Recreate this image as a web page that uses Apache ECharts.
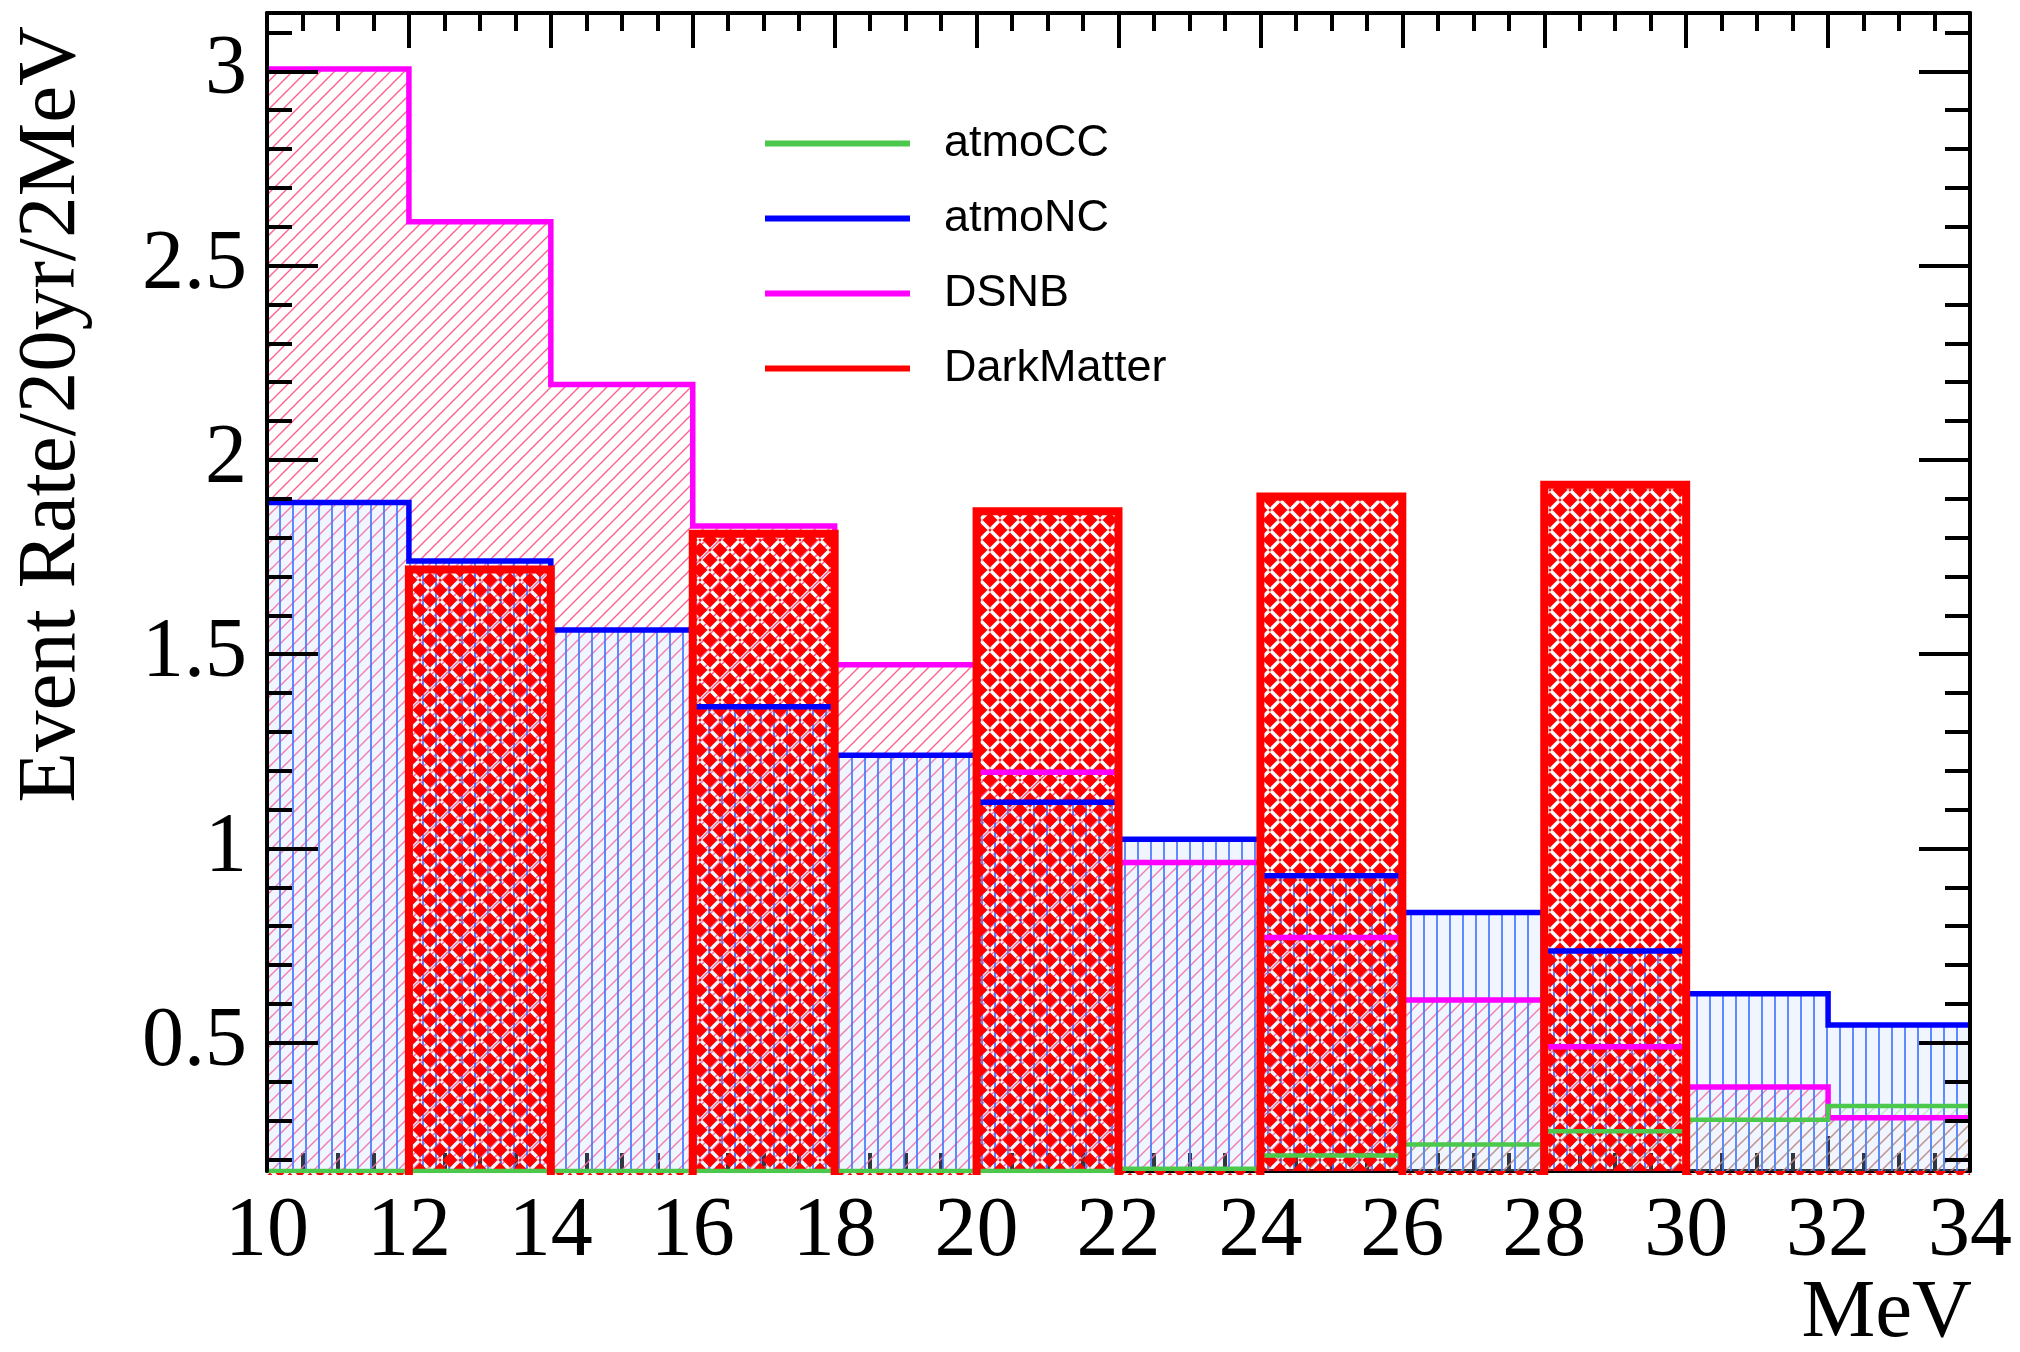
<!DOCTYPE html>
<html>
<head>
<meta charset="utf-8">
<script src="https://cdn.jsdelivr.net/npm/echarts@6/dist/echarts.min.js"></script>
<style>
  html, body { margin: 0; padding: 0; background: #fff; }
  #chart { width: 2020px; height: 1352px; }
</style>
</head>
<body>
<div id="chart"></div>
<script>
// bin edges in MeV (2 MeV bins)
var binEdges = [10, 12, 14, 16, 18, 20, 22, 24, 26, 28, 30, 32, 34];
// event rate / 20yr / 2MeV, one value per bin
var atmoCC = [0.17, 0.17, 0.17, 0.17, 0.17, 0.17, 0.176, 0.21, 0.238, 0.272, 0.302, 0.337];
var atmoNC = [1.89, 1.74, 1.562, 1.365, 1.24, 1.119, 1.024, 0.93, 0.835, 0.736, 0.626, 0.546];
var dsnb = [3.006, 2.613, 2.194, 1.83, 1.473, 1.196, 0.964, 0.771, 0.61, 0.49, 0.386, 0.307];
var darkMatter = [0, 1.718, 0, 1.81, 0, 1.868, 0, 1.906, 0, 1.936, 0, 0];
// y axis ticks
var yMajorTicks = [0.5, 1, 1.5, 2, 2.5, 3];
var yMinorTicks = [0.2, 0.3, 0.4, 0.6, 0.7, 0.8, 0.9, 1.1, 1.2, 1.3, 1.4, 1.6, 1.7, 1.8, 1.9,
  2.1, 2.2, 2.3, 2.4, 2.6, 2.7, 2.8, 2.9, 3.1];
var yMin = 0.17, yMax = 3.15;

var cGreen = '#4cc94c', cBlue = '#0000ff', cMagenta = '#ff00ff', cRed = '#ff0000';
var serifFont = 'Liberation Serif';
var sansFont = 'Liberation Sans';

// histogram as step line: left edge of every bin + closing point at the last edge
function steps(vals) {
  var d = vals.map(function (v, i) { return [binEdges[i], v]; });
  d.push([binEdges[binEdges.length - 1], vals[vals.length - 1]]);
  return d;
}

// fill patterns (root style hatches)
function pattern(size, draw) {
  var c = document.createElement('canvas');
  c.width = size; c.height = size;
  draw(c.getContext('2d'), size);
  return { image: c, repeat: 'repeat' };
}
function diag(ctx, s) {
  ctx.beginPath();
  ctx.moveTo(0, s); ctx.lineTo(s, 0);
  ctx.moveTo(-2, 2); ctx.lineTo(2, -2);
  ctx.moveTo(s - 2, s + 2); ctx.lineTo(s + 2, s - 2);
  ctx.stroke();
}
var dsnbFill = pattern(14, function (ctx, s) {
  ctx.strokeStyle = 'rgba(255,80,130,0.9)';
  ctx.lineWidth = 1.4;
  diag(ctx, s);
});
var ncFill = pattern(13, function (ctx, s) {
  ctx.fillStyle = 'rgba(200,215,255,0.25)';
  ctx.fillRect(0, 0, s, s);
  ctx.fillStyle = 'rgba(70,120,255,0.85)';
  ctx.fillRect(6, 0, 2, s);
});
var ccFill = pattern(14, function (ctx, s) {
  ctx.strokeStyle = 'rgba(80,200,80,0.35)';
  ctx.lineWidth = 1.3;
  diag(ctx, s);
});
// red weave with transparent holes, so what lies beneath shows through
var dmFill = pattern(20, function (ctx, s) {
  ctx.fillStyle = cRed;
  ctx.fillRect(0, 0, s, s);
  ctx.globalCompositeOperation = 'destination-out';
  ctx.strokeStyle = '#000';
  ctx.lineWidth = 3.6;
  ctx.lineCap = 'round';
  ctx.beginPath();
  ctx.moveTo(2, 2); ctx.lineTo(8, 8);
  ctx.moveTo(12, 8); ctx.lineTo(18, 2);
  ctx.moveTo(2, 18); ctx.lineTo(8, 12);
  ctx.moveTo(12, 12); ctx.lineTo(18, 18);
  ctx.stroke();
});

function hist(name, vals, color, width, fill) {
  return {
    name: name,
    type: 'line',
    step: 'end',
    data: steps(vals),
    symbol: 'none',
    showSymbol: false,
    silent: true,
    lineStyle: { color: color, width: width, join: 'miter' },
    itemStyle: { color: color },
    areaStyle: { color: fill, origin: 'start', opacity: 1 },
    emphasis: { disabled: true }
  };
}

var blackLine = { color: '#000', width: 4 };

function yAxisDef(position, ticks, len, withLabels, withLine) {
  return {
    type: 'value',
    position: position,
    min: yMin,
    max: yMax,
    z: 5,
    axisLine: { show: withLine, onZero: false, lineStyle: blackLine },
    axisTick: { show: true, inside: true, length: len, customValues: ticks, lineStyle: blackLine },
    axisLabel: withLabels ? {
      customValues: ticks,
      margin: 20,
      fontFamily: serifFont,
      fontSize: 84,
      color: '#000'
    } : { show: false },
    splitLine: { show: false }
  };
}

function xAxisDef(position, withLabels) {
  return {
    type: 'value',
    position: position,
    min: 10,
    max: 34,
    interval: 2,
    axisLine: { show: true, onZero: false, lineStyle: blackLine },
    axisTick: { show: true, inside: true, length: 35, lineStyle: blackLine },
    minorTick: { show: true, splitNumber: 4, length: 18, lineStyle: blackLine },
    axisLabel: withLabels ? {
      margin: 20,
      fontFamily: serifFont,
      fontSize: 84,
      color: '#000'
    } : { show: false },
    splitLine: { show: false }
  };
}

var chart = echarts.init(document.getElementById('chart'));
chart.setOption({
  animation: false,
  backgroundColor: '#fff',
  grid: { left: 267, right: 50, top: 13, bottom: 181 },
  xAxis: [xAxisDef('bottom', true), xAxisDef('top', false)],
  yAxis: [
    yAxisDef('left', yMajorTicks, 51, true, true),
    yAxisDef('left', yMinorTicks, 25, false, false),
    yAxisDef('right', yMajorTicks, 51, false, true),
    yAxisDef('right', yMinorTicks, 25, false, false)
  ],
  legend: {
    orient: 'vertical',
    left: 760,
    top: 116,
    icon: 'rect',
    itemWidth: 145,
    itemHeight: 6,
    itemGap: 30,
    selectedMode: false,
    textStyle: { fontFamily: sansFont, fontSize: 45, color: '#000', padding: [0, 0, 0, 29] },
    data: [
      { name: 'atmoCC', itemStyle: { color: cGreen } },
      { name: 'atmoNC', itemStyle: { color: cBlue } },
      { name: 'DSNB', itemStyle: { color: cMagenta } },
      { name: 'DarkMatter', itemStyle: { color: cRed } }
    ]
  },
  graphic: [
    {
      type: 'text',
      x: 52,
      y: 26,
      rotation: Math.PI / 2,
      style: {
        text: 'Event Rate/20yr/2MeV',
        font: '83px "Liberation Serif"',
        fill: '#000',
        align: 'right',
        verticalAlign: 'middle'
      }
    },
    {
      type: 'text',
      x: 1972,
      y: 1314,
      style: {
        text: 'MeV',
        font: '83px "Liberation Serif"',
        fill: '#000',
        align: 'right',
        verticalAlign: 'middle'
      }
    }
  ],
  series: [
    hist('DSNB', dsnb, cMagenta, 5.5, dsnbFill),
    hist('atmoNC', atmoNC, cBlue, 5.5, ncFill),
    hist('atmoCC', atmoCC, cGreen, 4.5, ccFill),
    hist('DarkMatter', darkMatter, cRed, 8, dmFill)
  ]
});
</script>
</body>
</html>
